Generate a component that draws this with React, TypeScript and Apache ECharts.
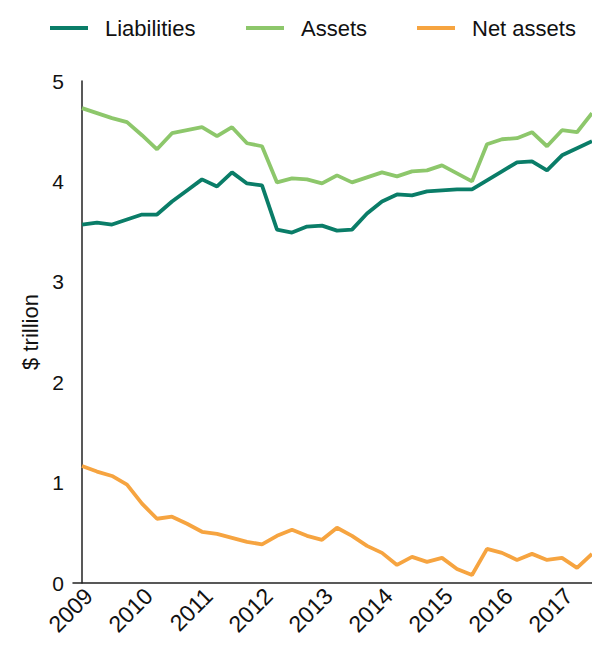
import React, { useEffect, useRef } from "react";
import * as echarts from "echarts";

const quarters: string[] = [];
for (let y = 2009; y <= 2017; y++) {
  for (let q = 1; q <= 4; q++) {
    if (y === 2017 && q === 4) break;
    quarters.push(`${y}Q${q}`);
  }
}

const yearTicks = ["2009", "2010", "2011", "2012", "2013", "2014", "2015", "2016", "2017"];
const seriesNames = ["Liabilities", "Assets", "Net assets"];

const liabilities = [
  3.57, 3.59, 3.57, 3.62, 3.67, 3.67, 3.80, 3.91, 4.02, 3.95, 4.09, 3.98,
  3.96, 3.52, 3.49, 3.55, 3.56, 3.51, 3.52, 3.68, 3.80, 3.87, 3.86,
  3.90, 3.91, 3.92, 3.92, 4.01, 4.10, 4.19, 4.20, 4.11, 4.26, 4.33, 4.40,
];

const assets = [
  4.73, 4.68, 4.63, 4.59, 4.46, 4.32, 4.48, 4.51, 4.54, 4.45, 4.54, 4.38,
  4.35, 3.99, 4.03, 4.02, 3.98, 4.06, 3.99, 4.04, 4.09, 4.05, 4.10,
  4.11, 4.16, 4.08, 4.00, 4.37, 4.42, 4.43, 4.49, 4.35, 4.51, 4.49, 4.68,
];

const netAssets = [
  1.165, 1.11, 1.066, 0.98, 0.79, 0.64, 0.66, 0.59, 0.51, 0.49, 0.45, 0.41,
  0.385, 0.47, 0.53, 0.47, 0.43, 0.55, 0.47, 0.37, 0.30, 0.18, 0.26,
  0.21, 0.25, 0.14, 0.08, 0.34, 0.30, 0.23, 0.29, 0.23, 0.25, 0.15, 0.29,
];

const FONT = "'Liberation Sans', Arial, sans-serif";

export default function App() {
  const ref = useRef<HTMLDivElement>(null);
  useEffect(() => {
    if (!ref.current) return;
    const chart = echarts.init(ref.current, undefined, { renderer: "svg" });
    const toXY = (arr: number[]) => arr.map((v, i) => [i, v]);
    const tickIdx = yearTicks.map((_, k) => k * 4 + 0.45);
    const mk = (name: string, color: string, data: number[]) => ({
      name,
      type: "line",
      data: toXY(data),
      showSymbol: false,
      symbol: "none",
      lineStyle: { color, width: 3.8 },
      itemStyle: { color },
      clip: true,
    });
    const legendLefts = [45, 241, 412];
    const legends = seriesNames.map((n, i) => ({
      top: 12,
      left: legendLefts[i],
      itemWidth: 38,
      itemHeight: 4,
      icon: "rect",
      textStyle: { fontSize: 22, color: "#111", fontFamily: FONT, padding: [0, 0, 0, 12] },
      data: [n],
    }));
    chart.setOption({
      animation: false,
      textStyle: { fontFamily: FONT },
      legend: legends,
      grid: { left: 73, right: 0, top: 81, bottom: 63, containLabel: false },
      xAxis: {
        type: "value",
        min: -0.6,
        max: 34,
        splitLine: { show: false },
        axisLine: { show: true, lineStyle: { color: "#222", width: 1.5 } },
        axisTick: { show: false },
        axisLabel: {
          customValues: tickIdx,
          rotate: 45,
          fontSize: 23,
          color: "#111",
          fontFamily: FONT,
          margin: 9,
          formatter: (v: number) => yearTicks[Math.round(v / 4)] ?? "",
        },
      },
      yAxis: {
        type: "value",
        min: 0,
        max: 5,
        interval: 1,
        name: "$ trillion",
        nameLocation: "middle",
        nameGap: 31,
        nameTextStyle: { fontSize: 22, color: "#111", fontFamily: FONT },
        splitLine: { show: false },
        axisLine: { show: true, lineStyle: { color: "#222", width: 1.5 } },
        axisTick: { show: false },
        axisLabel: { fontSize: 21, color: "#111", fontFamily: FONT, margin: 9 },
      },
      series: [
        mk(seriesNames[0], "#0a7d68", liabilities),
        mk(seriesNames[1], "#8dc76b", assets),
        mk(seriesNames[2], "#f6a440", netAssets),
      ],
    });
    return () => chart.dispose();
  }, []);
  return (
    <div
      ref={ref}
      style={{ position: "absolute", left: 0, top: 0, width: 592, height: 646 }}
    />
  );
}
